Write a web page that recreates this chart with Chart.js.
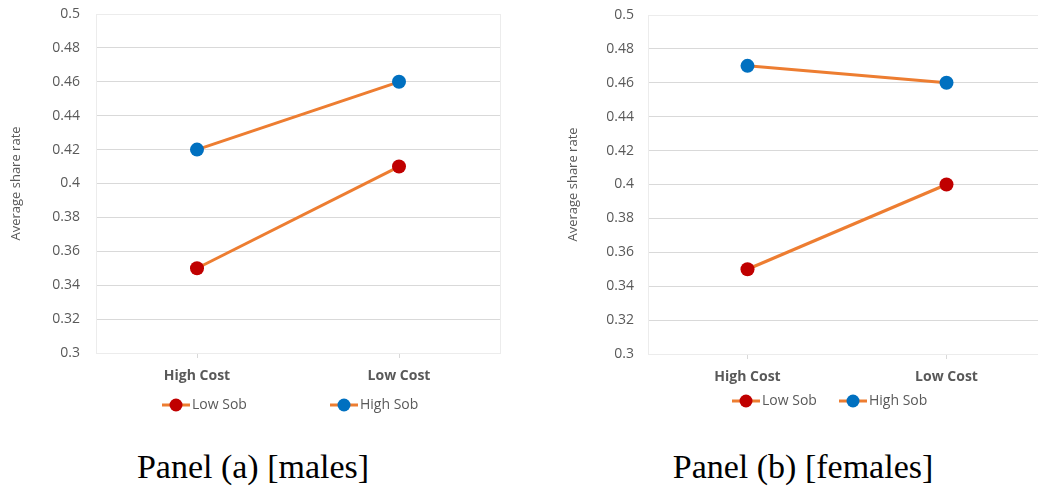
<!DOCTYPE html>
<html><head><meta charset="utf-8">
<script src="https://cdn.jsdelivr.net/npm/chart.js@4/dist/chart.umd.min.js"></script>
<style>
html,body{margin:0;padding:0;background:#fff;overflow:hidden;width:1038px;height:489px;position:relative;}
.wrap{position:absolute;top:0;width:520px;height:430px;}
.cap{position:absolute;font-family:"Liberation Serif","DejaVu Serif",serif;font-size:34px;color:#000;white-space:nowrap;transform:translateX(-50%);line-height:1;}
</style></head><body>
<div class="wrap" style="left:0"><canvas id="c1" width="520" height="430"></canvas></div>
<div class="wrap" style="left:552px"><canvas id="c2" width="520" height="430"></canvas></div>
<div class="cap" style="left:253px;top:450px">Panel (a) [males]</div>
<div class="cap" style="left:803px;top:450px">Panel (b) [females]</div>
<script>
const categories = ['High Cost', 'Low Cost'];
const seriesNames = ['Low Sob', 'High Sob'];
const malesLowSob = [0.35, 0.41];
const malesHighSob = [0.42, 0.46];
const femalesLowSob = [0.35, 0.40];
const femalesHighSob = [0.47, 0.46];
const yMin = 0.3, yMax = 0.5, yStep = 0.02;
const yTitle = 'Average share rate';

const LINE = '#ED7D31';
const MARK = ['#C00000', '#0070C0'];
const TXT = '#595959';
const GRID = '#d9d9d9';
const FONT = '"Open Sans", "Liberation Sans", sans-serif';

const areaBorder = {
  id: 'areaBorder',
  beforeDatasetsDraw(chart) {
    const {ctx, chartArea: a} = chart;
    ctx.save();
    ctx.strokeStyle = '#ececec';
    ctx.lineWidth = 1;
    ctx.strokeRect(Math.round(a.left) + 0.5, Math.round(a.top) + 0.5, Math.round(a.right - a.left), Math.round(a.bottom - a.top));
    ctx.restore();
  }
};

const lineLegend = {
  id: 'lineLegend',
  afterDraw(chart, args, opts) {
    const {ctx} = chart;
    ctx.save();
    chart.data.datasets.forEach((ds, i) => {
      const x0 = opts.xs[i], y = opts.y;
      ctx.strokeStyle = ds.borderColor;
      ctx.lineWidth = 3;
      ctx.beginPath(); ctx.moveTo(x0, y); ctx.lineTo(x0 + 28, y); ctx.stroke();
      ctx.fillStyle = ds.pointBackgroundColor;
      ctx.beginPath(); ctx.arc(x0 + 14, y, 6.5, 0, Math.PI * 2); ctx.fill();
      ctx.fillStyle = TXT;
      ctx.font = '14px ' + FONT;
      ctx.textBaseline = 'middle';
      ctx.textAlign = 'left';
      ctx.fillText(ds.label, x0 + 30, y);
    });
    ctx.restore();
  }
};

function makeChart(id, low, high, cfg) {
  const mk = (label, data, i) => ({
    label, data,
    borderColor: LINE, borderWidth: 3,
    pointBackgroundColor: MARK[i], pointBorderColor: MARK[i],
    pointRadius: 7, pointHoverRadius: 7, pointBorderWidth: 0,
    tension: 0
  });
  return new Chart(document.getElementById(id), {
    type: 'line',
    data: { labels: categories, datasets: [mk(seriesNames[0], low, 0), mk(seriesNames[1], high, 1)] },
    plugins: [areaBorder, lineLegend],
    options: {
      responsive: false, animation: false,
      layout: { padding: { left: cfg.padLeft, right: cfg.padRight, top: cfg.padTop, bottom: 0 } },
      plugins: {
        legend: { display: false }, tooltip: { enabled: false },
        lineLegend: { xs: cfg.legendXs, y: cfg.legendY }
      },
      scales: {
        x: {
          offset: true,
          grid: { offset: false, drawOnChartArea: false, color: GRID, tickLength: 5 },
          border: { color: GRID, width: 1 },
          ticks: { color: TXT, padding: 10, font: { family: FONT, size: 14, weight: 'bold' } },
          afterFit(s) { s.height = cfg.xHeight; s.paddingLeft = 0; s.paddingRight = 0; }
        },
        y: {
          min: yMin, max: yMax,
          grid: { color: GRID, drawTicks: false },
          border: { display: false },
          ticks: {
            stepSize: yStep, color: TXT, padding: cfg.tickPad,
            font: { family: FONT, size: 14 },
            callback: v => String(Math.round(v * 100) / 100)
          },
          title: { display: true, text: yTitle, color: TXT, font: { family: FONT, size: 13 }, padding: 0 },
          afterFit(s) { s.width = cfg.yWidth; s.paddingTop = 0; s.paddingBottom = 0; }
        }
      }
    }
  });
}

makeChart('c1', malesLowSob, malesHighSob, {
  padLeft: 8, padRight: 20, padTop: 14, yWidth: 88, tickPad: 16, xHeight: 77,
  legendXs: [162, 330], legendY: 405
});
makeChart('c2', femalesLowSob, femalesHighSob, {
  padLeft: 13, padRight: 26, padTop: 15, yWidth: 83, tickPad: 14, xHeight: 76,
  legendXs: [732 - 552, 839 - 552], legendY: 401
});
</script>
</body></html>
